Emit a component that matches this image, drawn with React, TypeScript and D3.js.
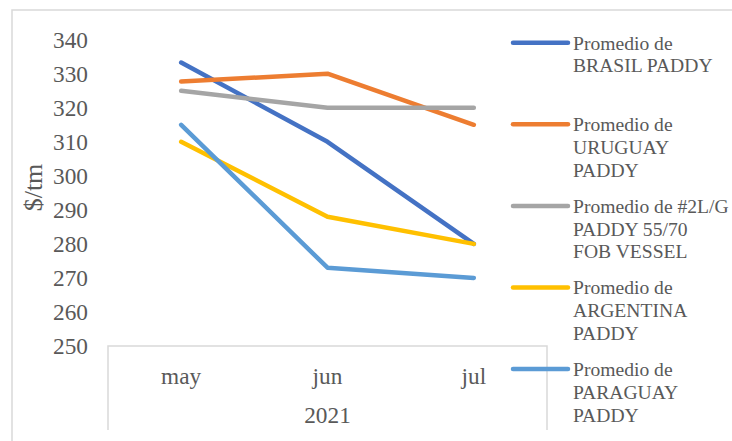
import * as d3 from "d3";

const months = ["may", "jun", "jul"];
const yearLabel = "2021";
const yTicks = [250, 260, 270, 280, 290, 300, 310, 320, 330, 340];

const brasil = [333.3, 310, 280];
const uruguay = [327.7, 330, 315];
const usLongGrain = [325, 320, 320];
const argentina = [310, 288, 280];
const paraguay = [315, 273, 270];

const seriesNames = [
  ["Promedio de", "BRASIL PADDY"],
  ["Promedio de", "URUGUAY", "PADDY"],
  ["Promedio de #2L/G", "PADDY 55/70", "FOB VESSEL"],
  ["Promedio de", "ARGENTINA", "PADDY"],
  ["Promedio de", "PARAGUAY", "PADDY"],
];
const seriesColors = ["#4472C4", "#ED7D31", "#A5A5A5", "#FFC000", "#5B9BD5"];

const WIDTH = 732;
const HEIGHT = 441;
const PLOT = { left: 108, right: 547, top: 39.7, bottom: 346 };
const FONT = "'Liberation Serif', 'Times New Roman', serif";
const TEXT = "#595959";
const BORDER = "#d9d9d9";

export default function App() {
  const series = [brasil, uruguay, usLongGrain, argentina, paraguay];

  const x = d3.scaleBand().domain(months).range([PLOT.left, PLOT.right]);
  const y = d3.scaleLinear().domain([250, 340]).range([PLOT.bottom, PLOT.top]);

  const line = d3
    .line<number>()
    .x((_, i) => (x(months[i]) ?? 0) + x.bandwidth() / 2)
    .y((d) => y(d));

  // legend slots
  const legendY = d3.scaleLinear().domain([0, 1]).range([42.7, 124.3]);

  return (
    <svg
      width={WIDTH}
      height={HEIGHT}
      viewBox={`0 0 ${WIDTH} ${HEIGHT}`}
      style={{ position: "absolute", left: 0, top: 0, background: "#fff" }}
      fontFamily={FONT}
    >
      <rect width={WIDTH} height={HEIGHT} fill="#fff" />
      {/* chart border */}
      <path d={`M12,${HEIGHT} V10 H${WIDTH}`} fill="none" stroke={BORDER} strokeWidth={1.5} />

      {/* y ticks */}
      {yTicks.map((t) => (
        <text key={t} x={88} y={y(t)} dy="0.36em" textAnchor="end" fontSize={23.3} fill={TEXT}>
          {t}
        </text>
      ))}
      <text
        transform="translate(33,187.5) rotate(-90)"
        textAnchor="middle"
        dy="0.35em"
        fontSize={26}
        fill={TEXT}
      >
        $/tm
      </text>

      {/* category axis box */}
      <path
        d={`M${PLOT.left},430 V${PLOT.bottom} H${PLOT.right} V430`}
        fill="none"
        stroke={BORDER}
        strokeWidth={1.5}
      />
      {months.map((m) => (
        <text
          key={m}
          x={(x(m) ?? 0) + x.bandwidth() / 2}
          y={384}
          textAnchor="middle"
          fontSize={23.3}
          fill={TEXT}
        >
          {m}
        </text>
      ))}
      <text x={(PLOT.left + PLOT.right) / 2} y={423} textAnchor="middle" fontSize={23.3} fill={TEXT}>
        {yearLabel}
      </text>

      {/* lines */}
      {series.map((s, i) => (
        <path
          key={i}
          d={line(s) ?? ""}
          fill="none"
          stroke={seriesColors[i]}
          strokeWidth={4.5}
          strokeLinecap="round"
          strokeLinejoin="round"
        />
      ))}

      {/* legend */}
      {seriesNames.map((lines, i) => {
        const ly = legendY(i);
        return (
          <g key={i}>
            <line
              x1={513}
              x2={568}
              y1={ly}
              y2={ly}
              stroke={seriesColors[i]}
              strokeWidth={4.5}
              strokeLinecap="round"
            />
            <text x={573} y={ly + 6.8} fontSize={19.6} fill={TEXT}>
              {lines.map((l, j) => (
                <tspan key={j} x={573} dy={j === 0 ? 0 : 22.8}>
                  {l}
                </tspan>
              ))}
            </text>
          </g>
        );
      })}
    </svg>
  );
}
